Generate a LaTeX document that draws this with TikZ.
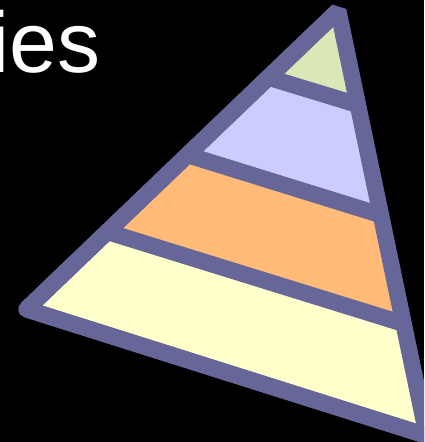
\documentclass[tikz,border=0pt]{standalone}
\usepackage{fontspec}
\setmainfont{Liberation Sans}
\usepackage{tikz}
\usetikzlibrary{calc}
\definecolor{rim}{HTML}{666699}
\definecolor{tiergreen}{HTML}{D9E8B6}
\definecolor{tierlav}{HTML}{CCCCFF}
\definecolor{tierorange}{HTML}{FFBB77}
\definecolor{tieryellow}{HTML}{FFFFCC}

\begin{document}
\begin{tikzpicture}[x=1pt, y=-1pt]
  \tikzset{
    rimline/.style={draw=rim, line width=16.5pt, line join=bevel, line cap=butt}
  }
  \useasboundingbox (0,0) rectangle (424,442);
  \fill[black] (0,0) rectangle (424,442);
  \clip (0,0) rectangle (424,442);

  % corners and tier boundaries
  \coordinate (apex) at (338.2,10.6);
  \coordinate (bl) at (26.5,309.2);
  \coordinate (br) at (427.0,435.7);
  \coordinate (l1) at (107.3,231.8);
  \coordinate (r1) at (403.6,323.7);
  \coordinate (l2) at (187.5,155.0);
  \coordinate (r2) at (380.9,215.0);
  \coordinate (l3) at (268.4,77.5);
  \coordinate (r3) at (357.9,104.8);

  \node[anchor=base east, text=white, inner sep=0pt, font=\fontsize{86}{86}\selectfont] (title) at (101,72) {ies};

  \fill[tieryellow] (bl) -- (l1) -- (r1) -- (br) -- cycle;
  \fill[tierorange] (l1) -- (l2) -- (r2) -- (r1) -- cycle;
  \fill[tierlav] (l2) -- (l3) -- (r3) -- (r2) -- cycle;
  \fill[tiergreen] (l3) -- (apex) -- (r3) -- cycle;

  \draw[rimline] (l1) -- (r1);
  \draw[rimline] (l2) -- (r2);
  \draw[rimline] (l3) -- (r3);
  \draw[rimline, line join=round] (br) -- (bl) -- (apex);
  \draw[rimline] (bl) -- (apex) -- (br) -- (bl);
\end{tikzpicture}
\end{document}
